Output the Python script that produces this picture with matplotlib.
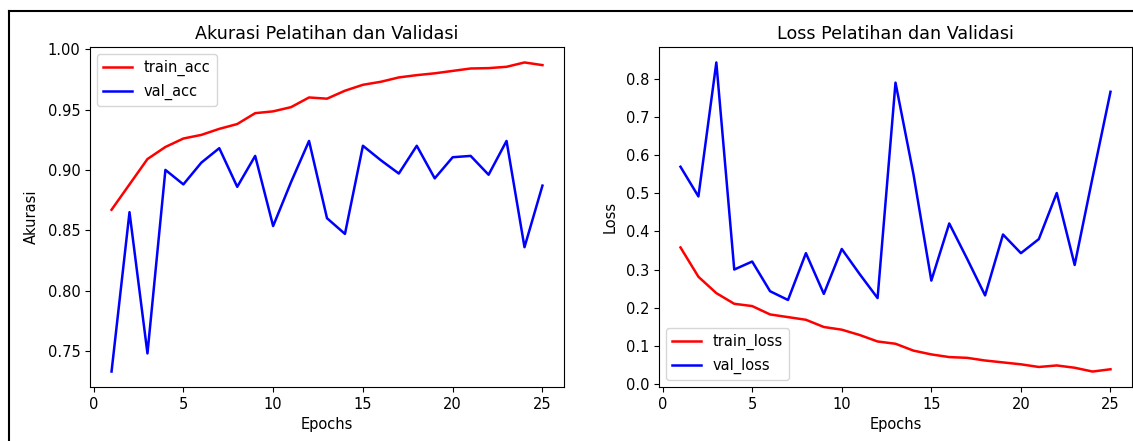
import matplotlib
matplotlib.use('Agg')
import matplotlib.pyplot as plt
from matplotlib.lines import Line2D

# Data
epochs = list(range(1, 26))

train_acc = [0.867, 0.888, 0.909, 0.919, 0.926, 0.929, 0.934, 0.938, 0.947, 0.9485,
             0.952, 0.960, 0.959, 0.9656, 0.9705, 0.973, 0.9766, 0.9785, 0.980, 0.982,
             0.984, 0.9843, 0.9854, 0.989, 0.9868]
val_acc = [0.733, 0.865, 0.748, 0.900, 0.888, 0.906, 0.918, 0.886, 0.9116, 0.8535,
           0.890, 0.924, 0.860, 0.847, 0.920, 0.908, 0.897, 0.920, 0.893, 0.9105,
           0.9116, 0.896, 0.924, 0.836, 0.887]

train_loss = [0.358, 0.281, 0.238, 0.210, 0.204, 0.182, 0.175, 0.168, 0.149, 0.142,
              0.128, 0.111, 0.105, 0.087, 0.077, 0.070, 0.068, 0.061, 0.056, 0.051,
              0.044, 0.048, 0.042, 0.032, 0.038]
val_loss = [0.570, 0.492, 0.844, 0.300, 0.321, 0.243, 0.220, 0.343, 0.236, 0.354,
            0.288, 0.225, 0.791, 0.551, 0.271, 0.421, 0.328, 0.232, 0.392, 0.343,
            0.380, 0.501, 0.312, 0.542, 0.767]

plt.rcParams['font.size'] = 10.5
plt.rcParams['lines.linewidth'] = 1.8
plt.rcParams['axes.labelpad'] = 6

W, H = 1133, 441
fig = plt.figure(figsize=(W / 100, H / 100), dpi=100)

# Axes placed in pixel terms
ax1 = fig.add_axes([90 / W, 1 - 387 / H, 474 / W, 340 / H])
ax2 = fig.add_axes([659 / W, 1 - 387 / H, 473 / W, 340 / H])

# Accuracy
ax1.plot(epochs, train_acc, 'r', label='train_acc')
ax1.plot(epochs, val_acc, 'b', label='val_acc')
ax1.set_title('Akurasi Pelatihan dan Validasi')
ax1.set_xlabel('Epochs', labelpad=4)
ax1.set_ylabel('Akurasi')
ax1.legend(loc='upper left')

# Loss
ax2.plot(epochs, train_loss, 'r', label='train_loss')
ax2.plot(epochs, val_loss, 'b', label='val_loss')
ax2.set_title('Loss Pelatihan dan Validasi')
ax2.set_xlabel('Epochs', labelpad=4)
ax2.set_ylabel('Loss')
ax2.legend(loc='lower left')

# screenshot frame (top and left edge)
fig.add_artist(Line2D([9 / W, 1], [1 - 11 / H, 1 - 11 / H], color='black', lw=1.5))
fig.add_artist(Line2D([9 / W, 9 / W], [0, 1 - 11 / H], color='black', lw=1.5))

fig.savefig('out.png', dpi=100)
